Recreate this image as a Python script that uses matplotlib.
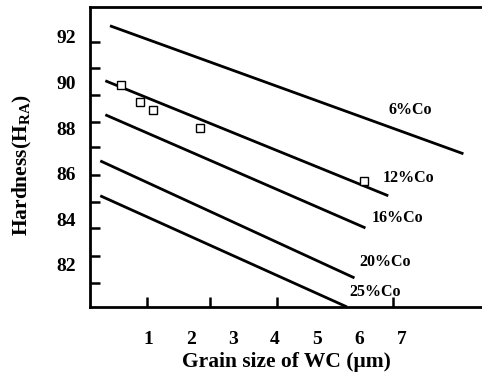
import matplotlib
matplotlib.use("Agg")
import matplotlib.pyplot as plt

plt.rcParams['font.family'] = ['Liberation Serif', 'DejaVu Serif']
plt.rcParams['font.weight'] = 'bold'
plt.rcParams['mathtext.fontset'] = 'custom'
plt.rcParams['mathtext.rm'] = 'Liberation Serif:bold'
plt.rcParams['mathtext.bf'] = 'Liberation Serif:bold'

# line end points (grain size, hardness)
series = ["6%Co", "12%Co", "16%Co", "20%Co", "25%Co"]
line_x = [[0.09, 8.46], [-0.02, 6.68], [-0.02, 6.14], [-0.14, 5.88], [-0.14, 5.70]]
line_y = [[92.48, 86.87], [90.07, 85.03], [88.58, 83.62], [86.56, 81.43], [85.03, 80.16]]
label_x = [7.2, 7.16, 6.9, 6.6, 6.37]
label_y = [88.8, 85.8, 84.06, 82.13, 80.8]

# measured points
pts_x = [0.36, 0.81, 1.11, 2.23, 6.11]
pts_y = [89.9, 89.15, 88.8, 88.0, 85.68]

x_labels = [1, 2, 3, 4, 5, 6, 7]
y_labels = [82, 84, 86, 88, 90, 92]
x_marks = [0.97, 2.46, 4.05, 6.8]
y_marks = [91.78, 90.64, 89.46, 88.27, 87.18, 85.95, 84.76, 83.62, 82.39, 81.21]

fig = plt.figure(figsize=(4.82, 3.72), dpi=100)
ax = fig.add_axes([0.187, 0.175, 0.813, 0.806])

for xs, ys in zip(line_x, line_y):
    ax.plot(xs, ys, color='black', lw=2.0, solid_capstyle='butt')
for name, tx, ty in zip(series, label_x, label_y):
    ax.text(tx, ty, name, fontsize=11.5, ha='center', va='center', fontweight='bold')

ax.plot(pts_x, pts_y, 's', ms=6, mfc='white', mec='black', mew=1.0)

ax.set_xlim(-0.38, 8.9)
ax.set_ylim(80.16, 93.3)

ax.set_xticks(x_labels)
ax.set_xticklabels([str(v) for v in x_labels])
ax.set_yticks(y_labels)
ax.set_yticklabels([str(v) for v in y_labels])
ax.tick_params(axis='both', which='major', length=0, labelsize=14)
ax.tick_params(axis='x', which='major', pad=17)
ax.tick_params(axis='y', which='major', pad=10)
ax.set_xticks(x_marks, minor=True)
ax.set_yticks(y_marks, minor=True)
ax.tick_params(axis='both', which='minor', direction='in', length=7, width=1.8)

for s in ['left', 'bottom', 'top']:
    ax.spines[s].set_linewidth(2)
ax.spines['right'].set_visible(False)

ax.set_xlabel("Grain size of WC (μm)", fontsize=15.5, fontweight='bold', labelpad=3)
ax.set_ylabel(r"Hardness(H$_{\mathbf{RA}}$)", fontsize=15.5, fontweight='bold')
ax.yaxis.set_label_coords(-0.143, 0.473)

fig.savefig("out.png", dpi=100)
